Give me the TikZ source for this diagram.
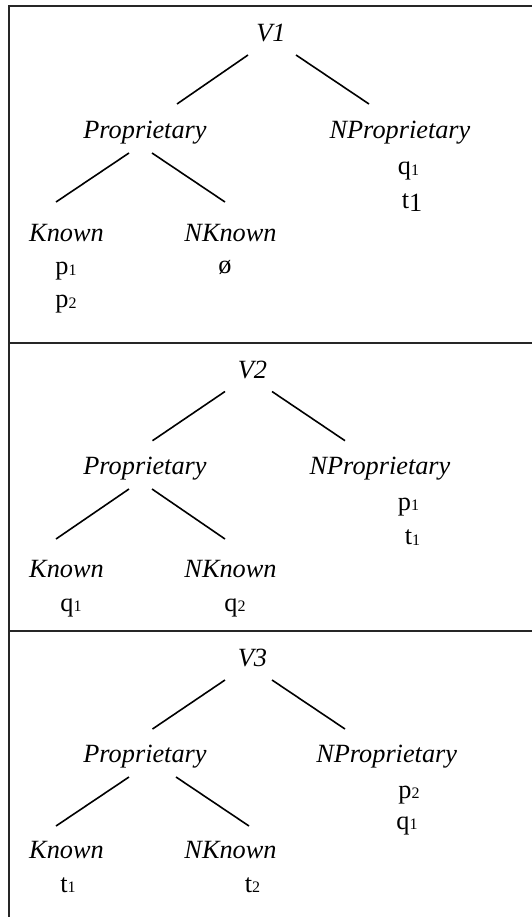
\documentclass[tikz,border=0pt]{standalone}
\usepackage{fontspec}
\setmainfont{Liberation Serif}
\newcommand{\sbs}[1]{\raisebox{-0.6pt}{\fontsize{16}{16}\selectfont #1}}
\begin{document}
\begin{tikzpicture}[x=1pt,y=-1pt,
  lbl/.style={anchor=base,inner sep=0pt,font=\fontsize{26.3}{30}\selectfont\itshape},
  val/.style={anchor=base,inner sep=0pt,font=\fontsize{26.3}{30}\selectfont},
  edge/.style={line width=1.6pt,black},
  frame/.style={line width=2pt,black!85}]
\useasboundingbox (0,0) rectangle (532,917);
% frame
\coordinate (tl) at (8.5,6.5);
\coordinate (tr) at (532,6.5);
\coordinate (bl) at (8.5,917);
\coordinate (d1l) at (8.5,343.4);
\coordinate (d1r) at (532,343.4);
\coordinate (d2l) at (8.5,631);
\coordinate (d2r) at (532,631);
\draw[frame] (tr) -- (tl) -- (bl);
\draw[frame] (d1l) -- (d1r);
\draw[frame] (d2l) -- (d2r);

% ---------- Panel 1 ----------
\node[lbl] (v1) at (271,42) {V1};
\node[lbl] (pa) at (145,139) {Proprietary};
\node[lbl] (npa) at (400,139) {NProprietary};
\node[val] (npa1) at (408.5,174.6) {q\sbs{1}};
\node[val] (npa2) at (412,208.5) {t\raisebox{-3pt}{1}};
\node[lbl] (ka) at (66.5,241) {Known};
\node[lbl] (nka) at (230.5,241) {NKnown};
\node[val] (ka1) at (66,274.6) {p\sbs{1}};
\node[val] (ka2) at (66,307.5) {p\sbs{2}};
\node[val] (nka1) at (225,273) {ø};
\coordinate (a1) at (248,55);  \coordinate (a2) at (177,104);
\coordinate (a3) at (296,55);  \coordinate (a4) at (369,104);
\coordinate (a5) at (129,153); \coordinate (a6) at (56,202);
\coordinate (a7) at (152,153); \coordinate (a8) at (225,202);
\draw[edge] (a1) -- (a2);
\draw[edge] (a3) -- (a4);
\draw[edge] (a5) -- (a6);
\draw[edge] (a7) -- (a8);

% ---------- Panel 2 ----------
\node[lbl] (v2) at (252.5,378.6) {V2};
\node[lbl] (pb) at (145,474.6) {Proprietary};
\node[lbl] (npb) at (380,474.6) {NProprietary};
\node[val] (npb1) at (408.5,510) {p\sbs{1}};
\node[val] (npb2) at (412.5,544.7) {t\sbs{1}};
\node[lbl] (kb) at (66.5,577) {Known};
\node[lbl] (nkb) at (230.5,577) {NKnown};
\node[val] (kb1) at (71,611) {q\sbs{1}};
\node[val] (nkb1) at (235,611) {q\sbs{2}};
\coordinate (b1) at (225,391.5); \coordinate (b2) at (152.5,440.7);
\coordinate (b3) at (272,391.5); \coordinate (b4) at (345,440.7);
\coordinate (b5) at (129,489);   \coordinate (b6) at (56,539);
\coordinate (b7) at (152,489);   \coordinate (b8) at (225,539);
\draw[edge] (b1) -- (b2);
\draw[edge] (b3) -- (b4);
\draw[edge] (b5) -- (b6);
\draw[edge] (b7) -- (b8);

% ---------- Panel 3 ----------
\node[lbl] (v3) at (252.5,666.8) {V3};
\node[lbl] (pc) at (145,762) {Proprietary};
\node[lbl] (npc) at (386.7,762) {NProprietary};
\node[val] (npc1) at (409,798) {p\sbs{2}};
\node[val] (npc2) at (407,829) {q\sbs{1}};
\node[lbl] (kc) at (66.5,858) {Known};
\node[lbl] (nkc) at (230.5,858) {NKnown};
\node[val] (kc1) at (68,892) {t\sbs{1}};
\node[val] (nkc1) at (252.5,892) {t\sbs{2}};
\coordinate (c1) at (225,680);   \coordinate (c2) at (152.5,729);
\coordinate (c3) at (272,680);   \coordinate (c4) at (345,729);
\coordinate (c5) at (129,777);   \coordinate (c6) at (56,826);
\coordinate (c7) at (176,777);   \coordinate (c8) at (249,826);
\draw[edge] (c1) -- (c2);
\draw[edge] (c3) -- (c4);
\draw[edge] (c5) -- (c6);
\draw[edge] (c7) -- (c8);
\end{tikzpicture}
\end{document}
